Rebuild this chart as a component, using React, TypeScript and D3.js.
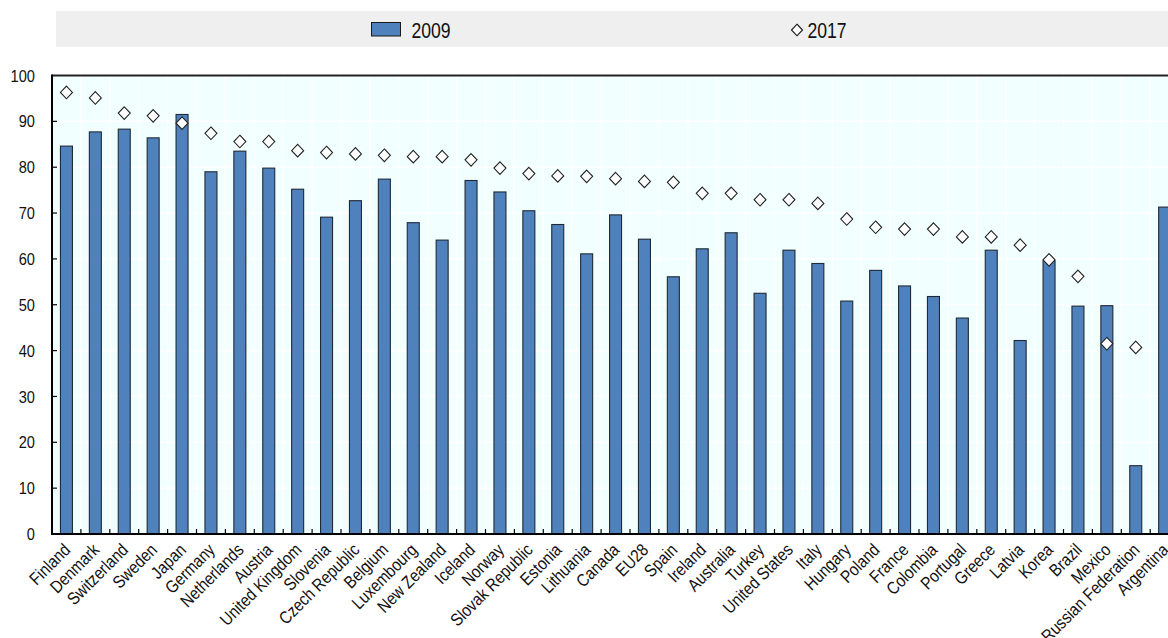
import React, { useRef, useEffect } from 'react';
import * as d3 from 'd3';

const countries = [
  'Finland', 'Denmark', 'Switzerland', 'Sweden', 'Japan', 'Germany', 'Netherlands', 'Austria',
  'United Kingdom', 'Slovenia', 'Czech Republic', 'Belgium', 'Luxembourg', 'New Zealand', 'Iceland',
  'Norway', 'Slovak Republic', 'Estonia', 'Lithuania', 'Canada', 'EU28', 'Spain', 'Ireland',
  'Australia', 'Turkey', 'United States', 'Italy', 'Hungary', 'Poland', 'France', 'Colombia',
  'Portugal', 'Greece', 'Latvia', 'Korea', 'Brazil', 'Mexico', 'Russian Federation', 'Argentina',
];

const values2009 = [
  84.6, 87.7, 88.3, 86.4, 91.5, 79.0, 83.5, 79.8,
  75.2, 69.1, 72.7, 77.4, 67.9, 64.1, 77.1,
  74.6, 70.5, 67.5, 61.1, 69.6, 64.3, 56.1, 62.2,
  65.7, 52.5, 61.9, 59.0, 50.8, 57.5, 54.1, 51.8,
  47.1, 61.9, 42.2, 59.6, 49.7, 49.8, 14.9, 71.3,
];

const values2017: (number | null)[] = [
  96.3, 95.1, 91.8, 91.2, 89.6, 87.4, 85.6, 85.6,
  83.6, 83.2, 82.9, 82.6, 82.3, 82.3, 81.6,
  79.8, 78.6, 78.1, 78.0, 77.5, 76.9, 76.7, 74.3,
  74.3, 72.9, 72.9, 72.1, 68.7, 66.9, 66.5, 66.5,
  64.8, 64.8, 63.0, 59.8, 56.2, 41.5, 40.7, null,
];

const yTicks = [0, 10, 20, 30, 40, 50, 60, 70, 80, 90, 100];
const seriesNames = ['2009', '2017'];

const W = 1168;
const H = 638;
const FONT = '"Liberation Sans", Arial, sans-serif';

// square-ish diamond marker
const diamond = (w: number, h: number) => `M0,${-h}L${w},0L0,${h}L${-w},0Z`;

const App: React.FC = () => {
  const svgRef = useRef<SVGSVGElement>(null);

  useEffect(() => {
    if (!svgRef.current) return;
    const svg = d3.select(svgRef.current);
    svg.selectAll('*').remove();

    const left = 52;
    const step = 28.9;
    const right = left + step * countries.length;
    const top = 75.5;
    const bottom = 534;

    const x = d3.scaleBand<string>().domain(countries).range([left, right]).padding(0);
    const y = d3.scaleLinear().domain([0, 100]).range([bottom, top]);
    const barW = 12;

    // Legend band
    svg.append('rect')
      .attr('x', 56).attr('y', 11)
      .attr('width', right - 56).attr('height', 36)
      .attr('fill', '#efefef');

    svg.append('rect')
      .attr('x', 371.5).attr('y', 22.5)
      .attr('width', 29).attr('height', 13.5)
      .attr('fill', '#4f81bd').attr('stroke', '#1a1a1a').attr('stroke-width', 1);
    svg.append('text')
      .attr('transform', 'translate(411.5,38) scale(0.8,1)')
      .attr('font-family', FONT).attr('font-size', 22).attr('fill', '#111')
      .text(seriesNames[0]);

    svg.append('path')
      .attr('d', diamond(5.5, 5.8))
      .attr('transform', 'translate(797,30)')
      .attr('fill', '#fff').attr('stroke', '#111').attr('stroke-width', 1.1);
    svg.append('text')
      .attr('transform', 'translate(807.5,38) scale(0.8,1)')
      .attr('font-family', FONT).attr('font-size', 22).attr('fill', '#111')
      .text(seriesNames[1]);

    // Plot background
    svg.append('rect')
      .attr('x', left).attr('y', top)
      .attr('width', right - left).attr('height', bottom - top)
      .attr('fill', '#f2ffff');

    // Grid
    const grid = svg.append('g').attr('stroke', '#ffffff').attr('stroke-width', 1.2);
    grid.selectAll('line.h')
      .data(yTicks.slice(1, -1))
      .enter().append('line')
      .attr('x1', left).attr('x2', right)
      .attr('y1', d => y(d)).attr('y2', d => y(d));
    grid.selectAll('line.v')
      .data(countries.slice(1))
      .enter().append('line')
      .attr('x1', d => x(d)!).attr('x2', d => x(d)!)
      .attr('y1', top).attr('y2', bottom);

    // Bars 2009
    svg.append('g')
      .selectAll('rect')
      .data(countries)
      .enter().append('rect')
      .attr('x', d => x(d)! + x.bandwidth() / 2 - barW / 2)
      .attr('y', (d, i) => y(values2009[i]))
      .attr('width', barW)
      .attr('height', (d, i) => bottom - y(values2009[i]))
      .attr('fill', '#4f81bd')
      .attr('stroke', '#1f2a36')
      .attr('stroke-width', 1.1);

    // Axes frame
    svg.append('line')
      .attr('x1', left).attr('x2', right)
      .attr('y1', top).attr('y2', top)
      .attr('stroke', '#222').attr('stroke-width', 2);
    svg.append('line')
      .attr('x1', left).attr('x2', left)
      .attr('y1', top - 1).attr('y2', bottom + 1)
      .attr('stroke', '#000').attr('stroke-width', 2);
    svg.append('line')
      .attr('x1', left - 1).attr('x2', right)
      .attr('y1', bottom).attr('y2', bottom)
      .attr('stroke', '#000').attr('stroke-width', 2);

    // Y ticks (inside)
    svg.append('g').selectAll('line')
      .data(yTicks.slice(1, -1))
      .enter().append('line')
      .attr('x1', left).attr('x2', left + 5)
      .attr('y1', d => y(d)).attr('y2', d => y(d))
      .attr('stroke', '#000').attr('stroke-width', 1.2);

    svg.append('g').selectAll('text')
      .data(yTicks)
      .enter().append('text')
      .attr('transform', d => `translate(35,${y(d)}) scale(0.86,1)`)
      .attr('dy', '0.36em')
      .attr('text-anchor', 'end')
      .attr('font-family', FONT).attr('font-size', 17).attr('fill', '#111')
      .text(d => d);

    // X ticks (inside, between categories)
    svg.append('g').selectAll('line')
      .data(countries.slice(1))
      .enter().append('line')
      .attr('x1', d => x(d)!).attr('x2', d => x(d)!)
      .attr('y1', bottom).attr('y2', bottom - 5)
      .attr('stroke', '#000').attr('stroke-width', 1.2);

    // Diamonds 2017
    const pts = countries
      .map((c, i) => ({ c, v: values2017[i] }))
      .filter(p => p.v !== null) as { c: string; v: number }[];
    svg.append('g').selectAll('path')
      .data(pts)
      .enter().append('path')
      .attr('d', diamond(6, 6.3))
      .attr('transform', d => `translate(${x(d.c)! + x.bandwidth() / 2},${y(d.v)})`)
      .attr('fill', '#fff')
      .attr('stroke', '#222')
      .attr('stroke-width', 1.1);

    // Category labels
    svg.append('g').selectAll('text')
      .data(countries)
      .enter().append('text')
      .attr('transform', d => `translate(${x(d)! + x.bandwidth() / 2 + 5},551) rotate(-45) scale(0.86,1)`)
      .attr('text-anchor', 'end')
      .attr('font-family', FONT).attr('font-size', 17.5).attr('fill', '#111')
      .text(d => d);
  }, []);

  return (
    <div style={{ position: 'absolute', left: 0, top: 0, width: W, height: H, overflow: 'hidden', background: '#fff' }}>
      <svg ref={svgRef} width={W} height={H} style={{ display: 'block' }} />
    </div>
  );
};

export default App;
